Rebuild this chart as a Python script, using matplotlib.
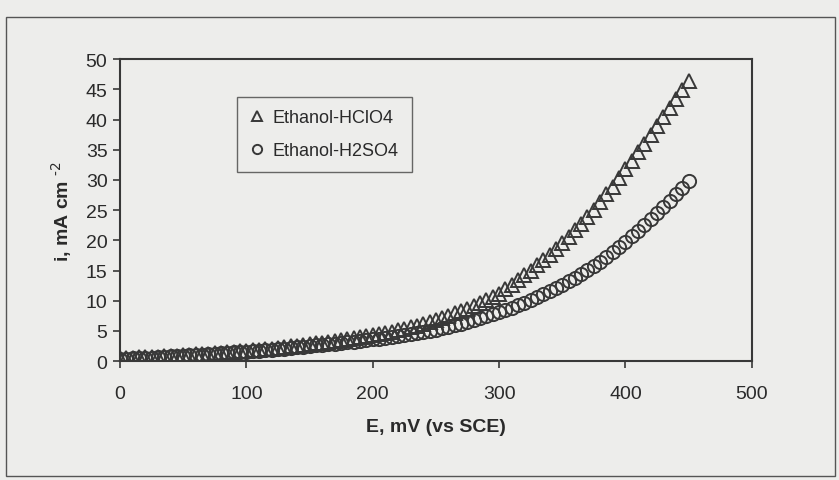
# Ethanol-HClO4 vs Ethanol-H2SO4 polarisation curves #

import numpy as np
import matplotlib.pyplot as plt
from matplotlib.patches import Rectangle

plt.rcParams['font.family'] = ['Liberation Sans', 'DejaVu Sans']

# potential, mV (vs SCE)
e_mv = np.arange(0, 451, 5)

# current density, mA cm-2
i_hclo4 = [0.5, 0.54, 0.58, 0.62, 0.66, 0.7,
           0.76, 0.82, 0.88, 0.94, 1.0,
           1.06, 1.12, 1.18, 1.24, 1.3,
           1.38, 1.46, 1.54, 1.62, 1.7,
           1.8, 1.9, 2.0, 2.1, 2.2,
           2.32, 2.44, 2.56, 2.68, 2.8,
           2.94, 3.08, 3.22, 3.36, 3.5,
           3.66, 3.82, 3.98, 4.14, 4.3,
           4.5, 4.7, 4.9, 5.1, 5.3,
           5.58, 5.86, 6.16, 6.46, 6.8,
           7.16, 7.52, 7.9, 8.3, 8.7,
           9.16, 9.64, 10.14, 10.66, 11.2,
           11.9, 12.6, 13.4, 14.2, 15.0,
           15.86, 16.74, 17.66, 18.6, 19.6,
           20.6, 21.64, 22.7, 23.8, 25.0,
           26.3, 27.6, 28.9, 30.3, 31.8,
           33.2, 34.6, 36.0, 37.4, 38.9,
           40.4, 41.9, 43.4, 44.9, 46.4]

i_h2so4 = [0.4, 0.44, 0.48, 0.52, 0.56, 0.6,
           0.66, 0.72, 0.78, 0.84, 0.9,
           0.96, 1.02, 1.08, 1.14, 1.2,
           1.28, 1.36, 1.44, 1.52, 1.6,
           1.68, 1.76, 1.84, 1.92, 2.0,
           2.1, 2.2, 2.3, 2.4, 2.5,
           2.6, 2.7, 2.8, 2.9, 3.0,
           3.12, 3.24, 3.36, 3.48, 3.6,
           3.74, 3.88, 4.02, 4.16, 4.3,
           4.46, 4.64, 4.82, 5.0, 5.2,
           5.44, 5.7, 5.96, 6.22, 6.5,
           6.8, 7.1, 7.42, 7.76, 8.1,
           8.48, 8.86, 9.26, 9.68, 10.1,
           10.58, 11.06, 11.56, 12.08, 12.6,
           13.2, 13.8, 14.4, 15.04, 15.7,
           16.46, 17.22, 18.0, 18.84, 19.7,
           20.64, 21.58, 22.54, 23.5, 24.5,
           25.54, 26.58, 27.62, 28.7, 29.8]

x_ticks = [0, 100, 200, 300, 400, 500]
y_ticks = [0, 5, 10, 15, 20, 25, 30, 35, 40, 45, 50]

paper = '#ededeb'
ink = '#383838'

fig = plt.figure(figsize=(8.39, 4.81), dpi=100, facecolor=paper)
ax = fig.add_axes([0.143, 0.247, 0.753, 0.628], facecolor=paper)

# outer chart border
fig.patches.append(Rectangle((0.007, 0.008), 0.988, 0.955, transform=fig.transFigure,
                             fill=False, edgecolor='#555555', linewidth=1.0))

ax.plot(e_mv, i_hclo4, linestyle='none', marker='^', markersize=10.5,
        markerfacecolor='none', markeredgecolor=ink, markeredgewidth=1.4,
        label='Ethanol-HClO4')
ax.plot(e_mv, i_h2so4, linestyle='none', marker='o', markersize=9.5,
        markerfacecolor='none', markeredgecolor=ink, markeredgewidth=1.4,
        label='Ethanol-H2SO4')

ax.set_xlim(0, 500)
ax.set_ylim(0, 50)
ax.set_xticks(x_ticks)
ax.set_yticks(y_ticks)
ax.tick_params(direction='out', length=5, width=1.2, color=ink,
               labelsize=14, labelcolor='#2a2a2a', pad=4)
ax.tick_params(axis='x', pad=12)
for s in ax.spines.values():
    s.set_color(ink)
    s.set_linewidth(1.5)

ax.set_xlabel('E, mV (vs SCE)', fontsize=14, fontweight='bold', color='#2a2a2a', labelpad=12)
ax.set_ylabel('i, mA cm $^{\\text{-2}}$', fontsize=14, fontweight='bold', color='#2a2a2a', labelpad=8)

leg = ax.legend(loc='upper left', bbox_to_anchor=(0.185, 0.876), fontsize=13,
                frameon=True, fancybox=False, shadow=False, markerscale=0.7,
                handlelength=0.8, handletextpad=0.5, borderpad=0.7, labelspacing=0.9,
                borderaxespad=0)
leg.get_frame().set_facecolor(paper)
leg.get_frame().set_edgecolor('#444444')
leg.get_frame().set_linewidth(1.0)
for t in leg.get_texts():
    t.set_color('#2a2a2a')

fig.savefig('out.png', dpi=100, facecolor=paper)
